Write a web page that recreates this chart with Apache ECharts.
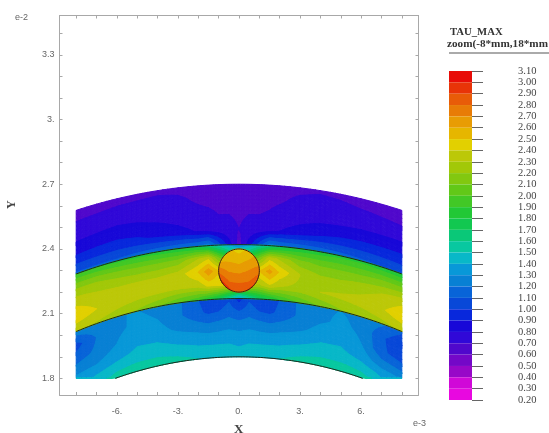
<!DOCTYPE html>
<html><head><meta charset="utf-8">
<style>html,body{margin:0;padding:0;background:#fff}#c{width:549px;height:433px;filter:blur(0.5px)}</style>
<script src="https://cdn.jsdelivr.net/npm/echarts@6/dist/echarts.min.js"></script>
</head><body><div id="c"></div>
<script>
const xTickValues=[-6,-3,0,3,6];
const xTickLabels=['-6.','-3.','0.','3.','6.'];
const xMinorTicks=[-8,-7,-6,-5,-4,-3,-2,-1,0,1,2,3,4,5,6,7,8];
const yTickValues=[1.8,2.1,2.4,2.7,3,3.3];
const yTickLabels=['1.8','2.1','2.4','2.7','3.','3.3'];
const yMinorTicks=[1.8,1.9,2,2.1,2.2,2.3,2.4,2.5,2.6,2.7,2.8,2.9,3,3.1,3.2,3.3,3.4];
const legendValues=[3.1,3.0,2.9,2.8,2.7,2.6,2.5,2.4,2.3,2.2,2.1,2.0,1.9,1.8,1.7,1.6,1.5,1.4,1.3,1.2,1.1,1.0,0.9,0.8,0.7,0.6,0.5,0.4,0.3,0.2];
const bandColors=['#e80c08','#e83408','#e85c08','#e87c06','#e89c04','#e6b600','#e2d000','#bcc808','#a2c808','#82c810','#62c818','#42c826','#22c836','#12c850','#0ac878','#08c8a0','#08b8c8','#0898d8','#0880d4','#0864d8','#0848d8','#0828dc','#1808d8','#3008d8','#5008cc','#7408c8','#9808c8','#d008d8','#e808e0'];
const xNodes=[-8,-7,-6,-5,-4,-3,-2,-1.5,-1,-0.5,0,0.5,1,1.5,2,3,4,5,6,7,8];
const topRadii=[27,26.3,25.6,24.9,24.2];
const midRadii=[24.2,23.6,23,22.35,21.7];
const botRadii=[21.7,21.1,20.5,19.9,19.45,19];
const topValues=[
[.65,.65,.66,.67,.68,.68,.67,.66,.65,.65,.65,.65,.65,.66,.67,.68,.69,.68,.66,.65,.64],
[.72,.73,.74,.74,.74,.72,.69,.68,.67,.67,.67,.67,.67,.68,.69,.72,.73,.73,.72,.71,.70],
[.80,.81,.82,.81,.79,.76,.73,.72,.70,.70,.69,.70,.70,.71,.73,.76,.78,.79,.80,.80,.80],
[.92,.93,.94,.92,.88,.84,.79,.76,.74,.72,.70,.72,.74,.76,.80,.85,.90,.92,.93,.93,.93],
[1.12,1.12,1.12,1.14,1.16,1.18,1.20,1.25,1.05,.85,.65,.85,1.05,1.25,1.20,1.18,1.16,1.14,1.12,1.10,1.08]];
const midValues=[
[1.90,1.88,1.85,1.85,1.82,1.80,1.72,1.62,1.50,1.35,1.25,1.35,1.50,1.60,1.70,1.80,1.82,1.85,1.85,1.82,1.80],
[2.18,2.18,2.15,2.12,2.12,2.14,2.30,2.38,2.10,1.90,1.80,1.90,2.10,2.36,2.28,2.12,2.08,2.08,2.08,2.10,2.10],
[2.36,2.32,2.30,2.30,2.30,2.34,2.50,2.66,2.50,2.60,2.60,2.60,2.50,2.64,2.48,2.30,2.22,2.22,2.26,2.30,2.36],
[2.48,2.40,2.35,2.33,2.32,2.30,2.32,2.42,2.42,2.40,2.30,2.30,2.28,2.38,2.30,2.26,2.30,2.32,2.34,2.38,2.48],
[2.30,2.28,2.24,2.18,2.10,2.00,1.90,1.78,1.68,1.50,1.30,1.50,1.65,1.72,1.85,2.00,2.10,2.18,2.22,2.26,2.30]];
const botValues=[
[1.25,1.28,1.30,1.30,1.28,1.22,1.10,1.05,1.02,1.08,.95,1.08,1.02,1.05,1.10,1.22,1.28,1.30,1.28,1.22,1.12],
[1.05,1.20,1.28,1.32,1.30,1.22,1.12,1.08,1.10,1.15,1.10,1.15,1.10,1.08,1.12,1.22,1.28,1.32,1.28,1.12,1.00],
[1.15,1.22,1.30,1.36,1.34,1.28,1.24,1.22,1.24,1.26,1.24,1.26,1.24,1.22,1.24,1.28,1.34,1.36,1.30,1.12,1.05],
[1.28,1.30,1.36,1.42,1.42,1.38,1.36,1.35,1.35,1.36,1.35,1.36,1.35,1.35,1.36,1.38,1.42,1.42,1.36,1.25,1.22],
[1.38,1.40,1.45,1.48,1.48,1.45,1.42,1.42,1.42,1.42,1.40,1.42,1.42,1.42,1.42,1.45,1.48,1.48,1.45,1.38,1.35],
[1.42,1.44,1.56,1.60,1.60,1.55,1.50,1.48,1.48,1.48,1.46,1.48,1.48,1.48,1.50,1.55,1.60,1.60,1.56,1.44,1.42]];
const ballNodes=[-1,-0.5,0,0.5,1];
const ballValues=[
[2.55,2.50,2.45,2.50,2.60],
[2.60,2.58,2.55,2.60,2.65],
[2.75,2.68,2.66,2.70,2.75],
[2.88,2.78,2.78,2.78,2.84],
[2.98,2.90,2.88,2.90,2.92]];
const ballCentre=[0,2.3];
const ballRadius=1.0;
const arcRadii=[24.2,21.7,19];
const floorY=1.8;
const lowest=0.2;
const bandStep=0.1;

function bandIndex(v){
  const k=Math.floor((legendValues[0]-v)/bandStep+1e-9);
  return Math.max(0,Math.min(bandColors.length-1,k));
}
function arcPoint(x,r){return [x,Math.max(Math.sqrt(r*r-x*x)/10,floorY)];}
function discPoint(u,v){
  const px=u*Math.sqrt(1-v*v/2), py=v*Math.sqrt(1-u*u/2);
  return [ballCentre[0]+px*ballRadius,ballCentre[1]-py*ballRadius/10];
}
const layers=[
 {cols:xNodes,rows:topRadii,vals:topValues,map:arcPoint},
 {cols:xNodes,rows:midRadii,vals:midValues,map:arcPoint},
 {cols:xNodes,rows:botRadii,vals:botValues,map:arcPoint},
 {cols:ballNodes,rows:ballNodes,vals:ballValues,map:discPoint}
];
const cells=[];
layers.forEach((L,l)=>{
  for(let j=0;j<L.rows.length-1;j++)for(let i=0;i<L.cols.length-1;i++){
    const c=L.map((L.cols[i]+L.cols[i+1])/2,(L.rows[j]+L.rows[j+1])/2);
    cells.push([c[0],c[1],L.vals[j][i],l,i,j]);
  }
});
function clipAbove(tri,level){
  const out=[];
  for(let k=0;k<tri.length;k++){
    const A=tri[k],B=tri[(k+1)%tri.length],ia=A[2]>=level,ib=B[2]>=level;
    if(ia)out.push(A);
    if(ia!==ib){const t=(level-A[2])/(B[2]-A[2]);
      out.push([A[0]+(B[0]-A[0])*t,A[1]+(B[1]-A[1])*t,level]);}
  }
  return out;
}
function paintTriangle(tri,children,base){
  const vals=tri.map(p=>p[2]),lo=Math.min.apply(null,vals),hi=Math.max.apply(null,vals);
  const add=(poly,k)=>children.push({type:'polygon',z2:base+bandColors.length-k,shape:{points:poly.map(p=>[p[0],p[1]])},
    style:{fill:bandColors[k],stroke:bandColors[k],lineWidth:1,lineJoin:'round'}});
  let k=bandIndex(lo);
  add(tri,k);
  while(k>0){
    const level=legendValues[k];
    if(level>=hi)break;
    const poly=clipAbove(tri,level);
    k--;
    if(poly.length>2)add(poly,k);
  }
}
function renderCell(params,api){
  const l=api.value(3),L=layers[l],i=api.value(4),j=api.value(5);
  const a0=L.cols[i],a1=L.cols[i+1],b0=L.rows[j],b1=L.rows[j+1];
  const v00=L.vals[j][i],v10=L.vals[j][i+1],v01=L.vals[j+1][i],v11=L.vals[j+1][i+1];
  const n=4,grid=[];
  for(let q=0;q<=n;q++){const t=q/n,row=[];
    for(let p=0;p<=n;p++){const s=p/n;
      const c=api.coord(L.map(a0+(a1-a0)*s,b0+(b1-b0)*t));
      row.push([c[0],c[1],(1-t)*((1-s)*v00+s*v10)+t*((1-s)*v01+s*v11)]);}
    grid.push(row);}
  const children=[],base=l===3?100:0;
  for(let q=0;q<n;q++)for(let p=0;p<n;p++){
    const A=grid[q][p],B=grid[q][p+1],C=grid[q+1][p+1],D=grid[q+1][p];
    paintTriangle([A,B,C],children,base);
    paintTriangle([A,C,D],children,base);
  }
  return {type:'group',silent:true,children};
}
function renderArc(params,api){
  const r=api.value(0),lim=Math.sqrt(Math.max(0,r*r-floorY*floorY*100));
  const top=Math.min(8,lim),pts=[];
  for(let k=0;k<=80;k++){pts.push(api.coord(arcPoint(-top+2*top*k/80,r)));}
  return {type:'polyline',shape:{points:pts},silent:true,style:{fill:null,stroke:'#1c2a1c',lineWidth:1}};
}
function renderBallEdge(params,api){
  const pts=[];
  for(let k=0;k<=72;k++){const t=k/72*2*Math.PI;
    pts.push(api.coord([ballCentre[0]+ballRadius*Math.cos(t),ballCentre[1]+ballRadius/10*Math.sin(t)]));}
  return {type:'polyline',shape:{points:pts},silent:true,style:{fill:null,stroke:'#3a2a10',lineWidth:1}};
}
function renderLegendBand(params,api){
  const a=api.coord([0,api.value(0)]),b=api.coord([1,api.value(1)]);
  return {type:'rect',shape:{x:a[0],y:b[1],width:b[0]-a[0],height:a[1]-b[1]},silent:true,style:{fill:bandColors[api.value(2)]}};
}
const legendBands=bandColors.map((c,k)=>[legendValues[k+1],legendValues[k],k]);
const frame={show:true,onZero:false,lineStyle:{color:'#a8a8a8',width:1}};
const serif='"Liberation Serif",serif';
const sans='"Liberation Sans",sans-serif';
const chart=echarts.init(document.getElementById('c'),null,{renderer:'canvas'});
chart.setOption({
  animation:false,backgroundColor:'#fff',tooltip:{show:false},
  grid:[{left:59.5,top:15.5,width:359,height:379.5},{left:449,top:71,width:23,height:329}],
  xAxis:[
   {type:'value',gridIndex:0,min:-8.82,max:8.82,position:'bottom',axisLine:frame,splitLine:{show:false},
    axisTick:{show:true,inside:true,length:3,lineStyle:{color:'#a8a8a8'},customValues:xMinorTicks},
    axisLabel:{show:true,customValues:xTickValues,margin:12,color:'#666',fontSize:9,fontFamily:sans,
      formatter:v=>xTickLabels[xTickValues.indexOf(v)]}},
   {type:'value',gridIndex:0,min:-8.82,max:8.82,position:'top',axisLine:frame,splitLine:{show:false},
    axisTick:{show:true,inside:true,length:3,lineStyle:{color:'#a8a8a8'},customValues:xMinorTicks},axisLabel:{show:false}},
   {type:'value',gridIndex:1,min:0,max:1,show:false}
  ],
  yAxis:[
   {type:'value',gridIndex:0,min:1.723,max:3.482,position:'left',axisLine:frame,splitLine:{show:false},
    axisTick:{show:true,inside:true,length:3,lineStyle:{color:'#a8a8a8'},customValues:yMinorTicks},
    axisLabel:{show:true,customValues:yTickValues,margin:5,color:'#666',fontSize:9,fontFamily:sans,
      formatter:v=>yTickLabels[yTickValues.indexOf(v)]}},
   {type:'value',gridIndex:0,min:1.723,max:3.482,position:'right',axisLine:frame,splitLine:{show:false},
    axisTick:{show:true,inside:true,length:3,lineStyle:{color:'#a8a8a8'},customValues:yMinorTicks},axisLabel:{show:false}},
   {type:'value',gridIndex:1,min:lowest,max:legendValues[0],position:'right',splitLine:{show:false},
    axisLine:{show:false,onZero:false},
    axisTick:{show:true,length:11,lineStyle:{color:'#666',width:1},customValues:legendValues},
    axisLabel:{show:true,customValues:legendValues,margin:46,align:'left',color:'#444',fontSize:10.5,fontFamily:serif,
      formatter:v=>v.toFixed(2)}}
  ],
  series:[
   {type:'custom',name:'TAU_MAX',xAxisIndex:0,yAxisIndex:0,clip:false,progressive:0,renderItem:renderCell,data:cells,z:2},
   {type:'custom',name:'interfaces',xAxisIndex:0,yAxisIndex:0,clip:false,renderItem:renderArc,data:arcRadii.map(r=>[r]),encode:{x:0},z:3},
   {type:'custom',name:'ball',xAxisIndex:0,yAxisIndex:0,clip:false,renderItem:renderBallEdge,data:[ballCentre],z:3},
   {type:'custom',name:'legend',xAxisIndex:2,yAxisIndex:2,clip:false,renderItem:renderLegendBand,data:legendBands,encode:{y:[0,1]},z:2}
  ],
  graphic:[
   {type:'text',left:15,top:13,style:{text:'e-2',fill:'#666',font:'9px '+sans}},
   {type:'text',left:413,top:419,style:{text:'e-3',fill:'#666',font:'9px '+sans}},
   {type:'text',left:234,top:423,style:{text:'X',fill:'#444',font:'bold 13px '+serif}},
   {type:'text',x:6,y:209,rotation:Math.PI/2,style:{text:'Y',fill:'#444',font:'bold 12px '+serif}},
   {type:'text',x:450,y:27,style:{text:'TAU_MAX',fill:'#333',font:'bold 10.7px '+serif}},
   {type:'text',x:447,y:39,style:{text:'zoom(-8*mm,18*mm',fill:'#333',font:'bold 11.2px '+serif}},
   {type:'rect',shape:{x:449,y:52,width:100,height:2},style:{fill:'#aaa'}}
  ]
});
</script></body></html>
